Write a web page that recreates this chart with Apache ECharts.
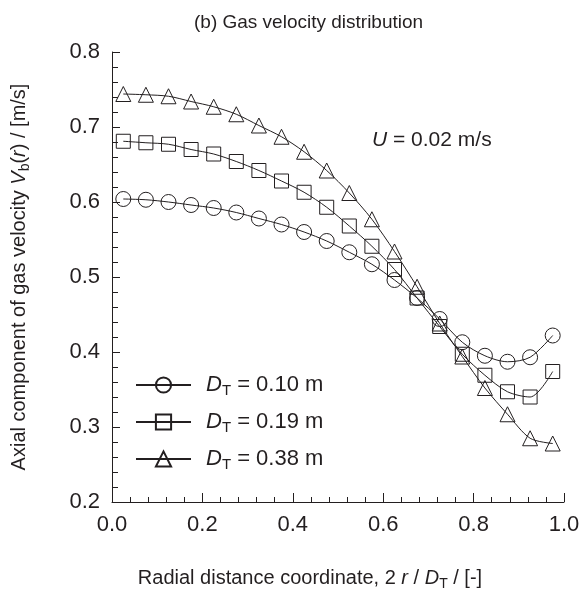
<!DOCTYPE html>
<html><head><meta charset="utf-8">
<script src="https://cdn.jsdelivr.net/npm/echarts@6/dist/echarts.min.js"></script>
<style>html,body{margin:0;padding:0;background:#fff}#c{width:583px;height:596px}</style>
</head><body><div id="c"></div>
<script>
const radial = [0.025,0.075,0.125,0.175,0.225,0.275,0.325,0.375,0.425,0.475,0.525,0.575,0.625,0.675,0.725,0.775,0.825,0.875,0.925,0.975];
const vDT010 = [0.604,0.603,0.600,0.596,0.592,0.586,0.578,0.570,0.560,0.548,0.533,0.517,0.496,0.472,0.444,0.413,0.395,0.387,0.393,0.422];
const vDT019 = [0.681,0.679,0.677,0.670,0.664,0.654,0.642,0.628,0.613,0.593,0.568,0.541,0.510,0.472,0.434,0.397,0.369,0.347,0.340,0.374];
const vDT038 = [0.744,0.743,0.741,0.734,0.727,0.717,0.702,0.687,0.667,0.642,0.612,0.577,0.534,0.487,0.438,0.394,0.352,0.317,0.285,0.278];
const diameters = ['0.10','0.19','0.38'];

const FONT = '"Liberation Sans", Arial, Helvetica, sans-serif';
const INK = '#231f20';
const pairs = v => radial.map((x, i) => [x, v[i]]);
const richBase = {
  n: {fontFamily: FONT, fontSize: 20, color: INK, lineHeight: 26},
  i: {fontFamily: FONT, fontSize: 20, color: INK, fontStyle: 'italic', lineHeight: 26},
  s: {fontFamily: FONT, fontSize: 14, color: INK, lineHeight: 12, verticalAlign: 'bottom'}
};
function mkSeries(name, data, symbol, size) {
  return {
    type: 'line', name: name, data: pairs(data), smooth: 0.3,
    symbol: symbol, symbolSize: size, showAllSymbol: true,
    lineStyle: {color: INK, width: 1},
    itemStyle: {color: 'rgba(255,255,255,0)', borderColor: INK, borderWidth: 1},
    emphasis: {disabled: true}, z: 3
  };
}
const chart = echarts.init(document.getElementById('c'), null, {renderer: 'canvas'});
chart.setOption({
  animation: false,
  backgroundColor: '#fff',
  title: [
    {text: '(b) Gas velocity distribution', left: 189, top: 8,
     textStyle: {fontFamily: FONT, fontSize: 19, fontWeight: 'normal', color: INK}},
    {text: '{i|U} = 0.02 m/s', left: 367, top: 125,
     textStyle: {rich: {
       i: {fontFamily: FONT, fontSize: 21, fontStyle: 'italic', color: INK},
       n: {fontFamily: FONT, fontSize: 21, color: INK}
     }, fontFamily: FONT, fontSize: 21, fontWeight: 'normal', color: INK}}
  ],
  grid: {left: 112, right: 19, top: 52, bottom: 84, containLabel: false},
  legend: {
    orient: 'vertical', left: 135, top: 374, padding: 0, itemWidth: 55, itemHeight: 19, itemGap: 13,
    selectedMode: false,
    data: diameters.map(d => 'D_T = ' + d + ' m'),
    formatter: name => '{i|D}{s|T}{n| = ' + name.split('= ')[1] + '}',
    textStyle: {padding: [0, 0, 0, 10], rich: {
      n: {fontFamily: FONT, fontSize: 22, color: INK, lineHeight: 26},
      i: {fontFamily: FONT, fontSize: 22, color: INK, fontStyle: 'italic', lineHeight: 26},
      s: {fontFamily: FONT, fontSize: 15, color: INK, lineHeight: 12, verticalAlign: 'bottom'}
    }}
  },
  xAxis: {
    type: 'value', min: 0, max: 1, interval: 0.2,
    name: '{n|Radial distance coordinate, 2 }{i|r}{n| / }{i|D}{s|T}{n| / [-]}',
    nameLocation: 'middle', nameGap: 63,
    nameTextStyle: {padding: [0, 56, 0, 0], rich: richBase},
    axisLine: {lineStyle: {color: INK, width: 1}},
    axisTick: {inside: true, length: 9, lineStyle: {color: INK}},
    minorTick: {show: true, splitNumber: 5, length: 5, lineStyle: {color: INK}},
    axisLabel: {fontFamily: FONT, fontSize: 22, color: INK, margin: 12, formatter: v => v.toFixed(1)},
    splitLine: {show: false}
  },
  yAxis: {
    type: 'value', min: 0.2, max: 0.8, interval: 0.1,
    name: '{n|Axial component of gas velocity }{i|V}{s|b}{n|(}{i|r}{n|) / [m/s]}',
    nameLocation: 'middle', nameGap: 80, nameRotate: 90,
    nameTextStyle: {rich: richBase},
    axisLine: {lineStyle: {color: INK, width: 1}},
    axisTick: {inside: true, length: 8, lineStyle: {color: INK}},
    minorTick: {show: true, splitNumber: 5, length: 6, lineStyle: {color: INK}},
    axisLabel: {fontFamily: FONT, fontSize: 22, color: INK, margin: 12, formatter: v => v.toFixed(1)},
    splitLine: {show: false}
  },
  series: [
    mkSeries('D_T = ' + diameters[0] + ' m', vDT010, 'circle', 15),
    mkSeries('D_T = ' + diameters[1] + ' m', vDT019, 'rect', 14),
    mkSeries('D_T = ' + diameters[2] + ' m', vDT038, 'triangle', 15)
  ]
});
</script></body></html>
